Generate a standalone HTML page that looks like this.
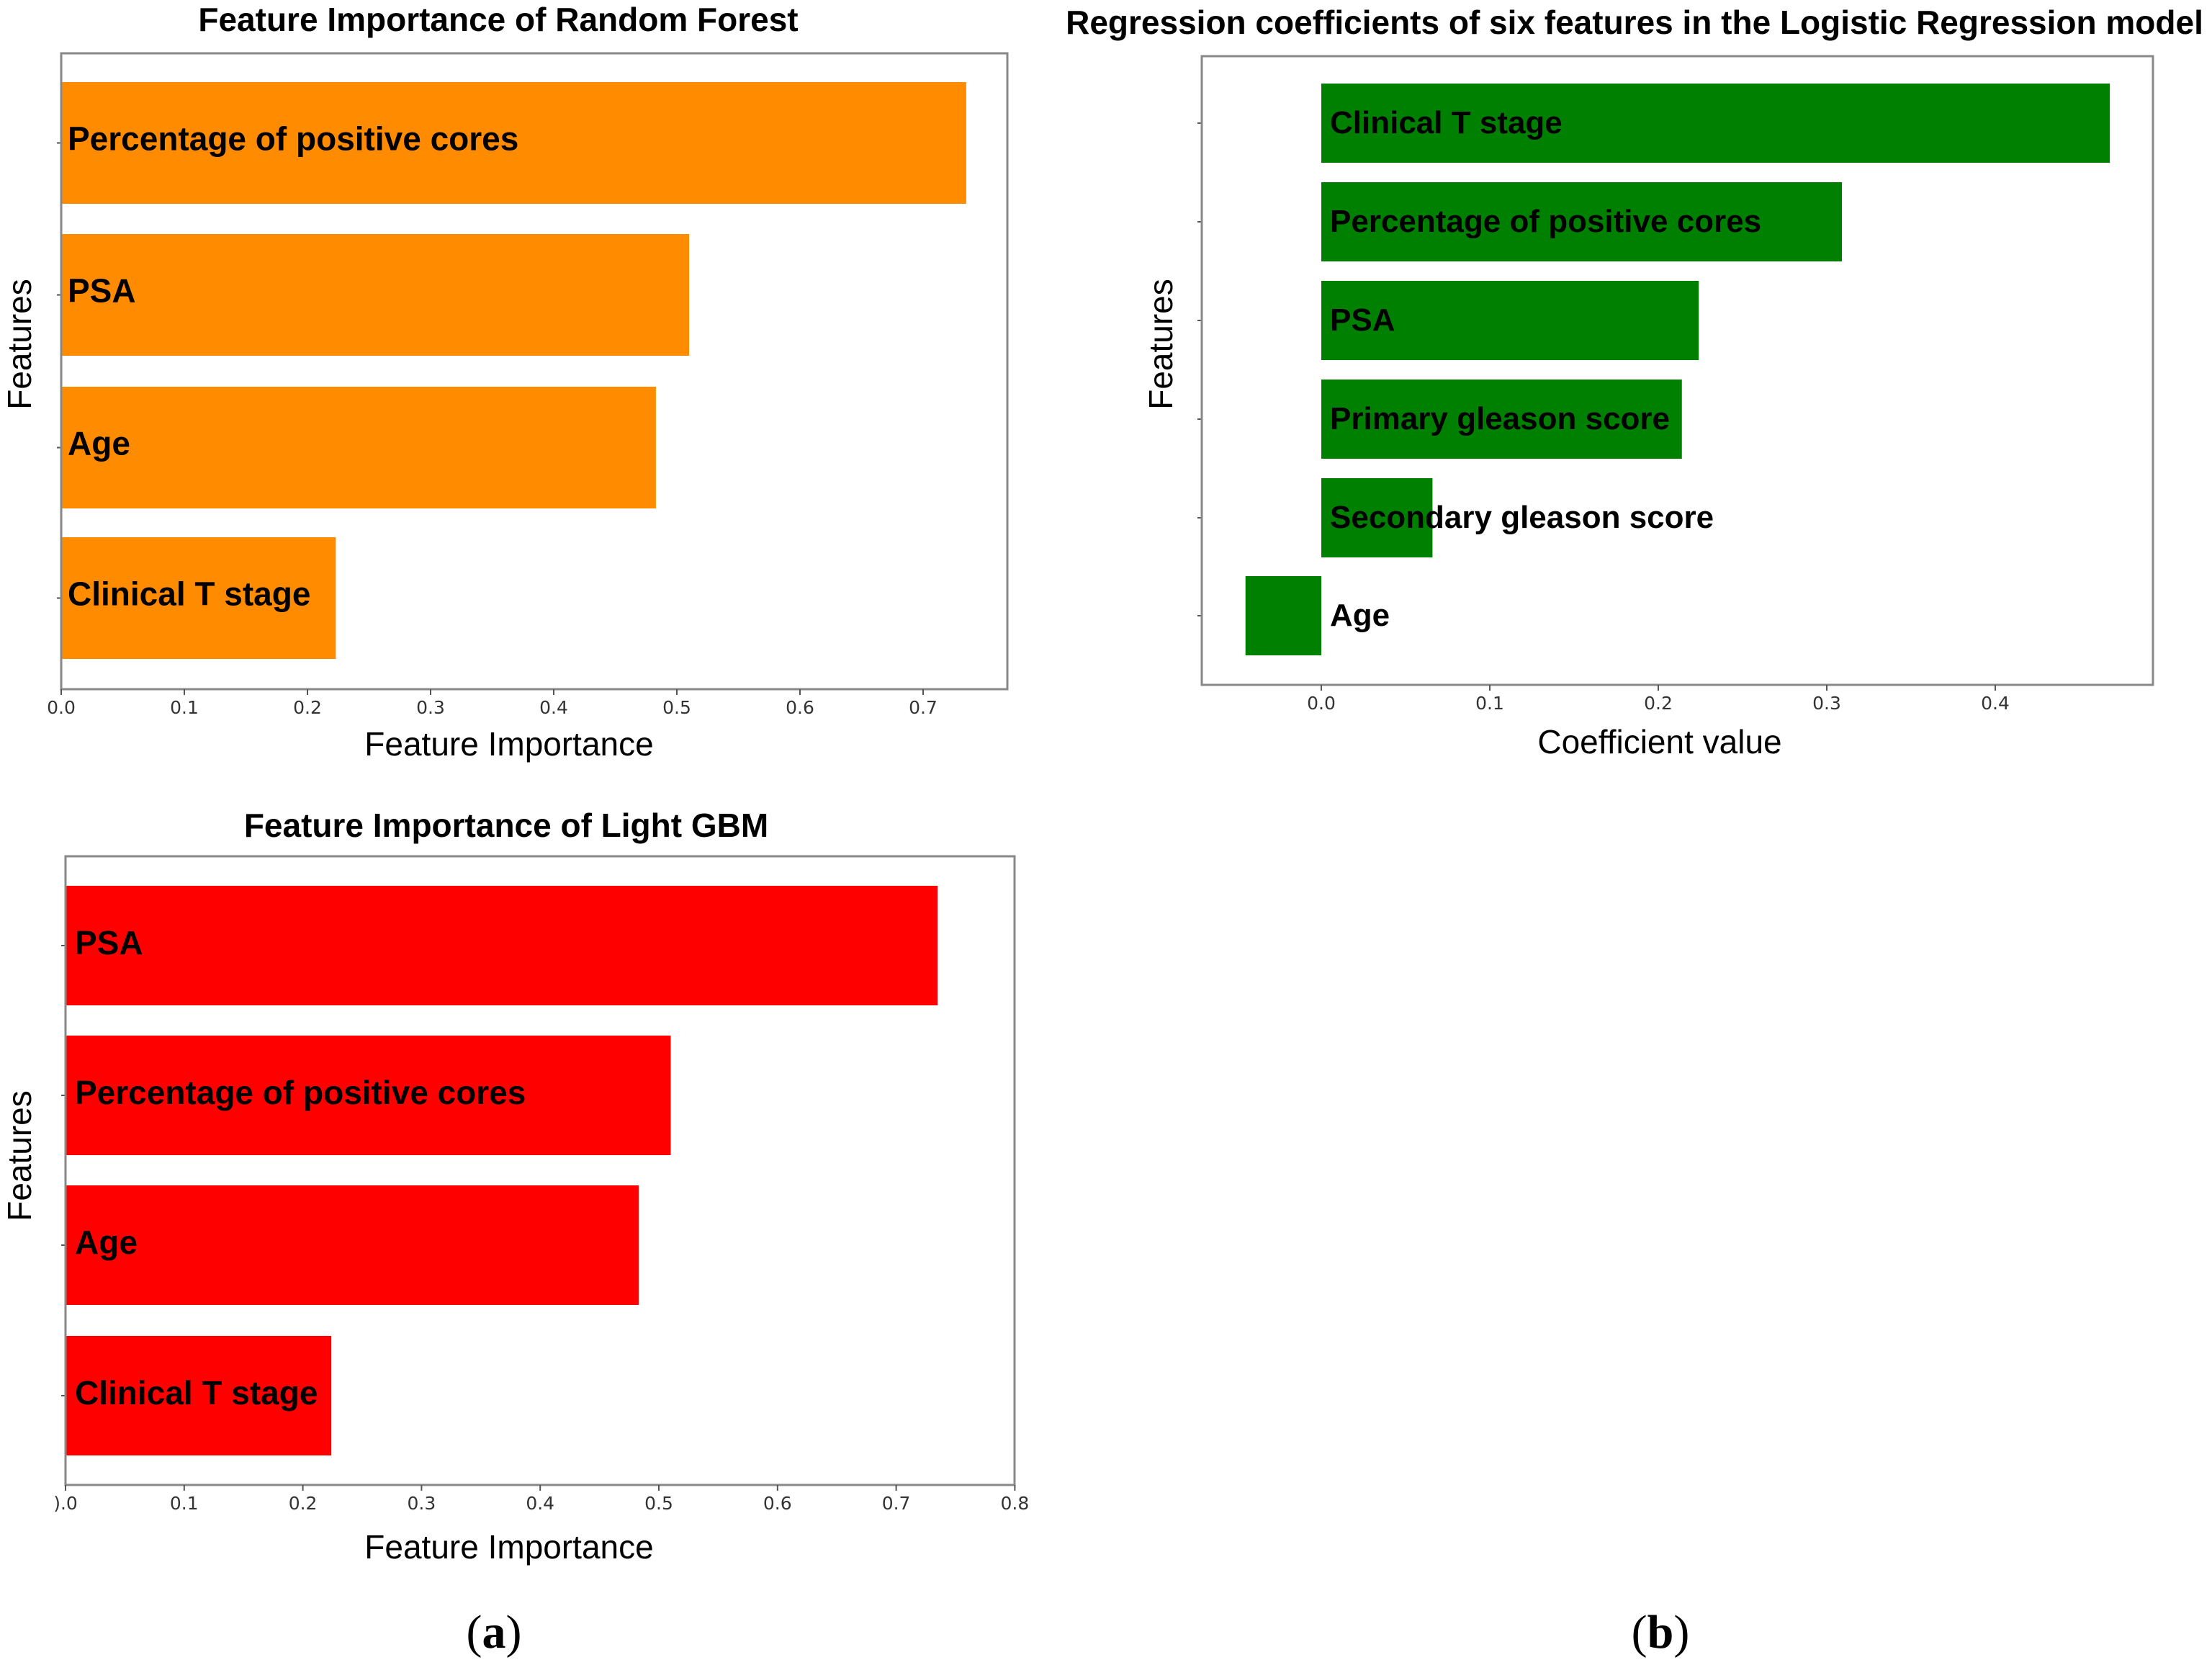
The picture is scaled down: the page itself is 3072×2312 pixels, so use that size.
<!DOCTYPE html>
<html><head><meta charset="utf-8"><style>
html,body{margin:0;padding:0;background:#fff;}
svg{display:block;font-family:"Liberation Sans",Arial,sans-serif;}
</style></head><body>
<svg id="fig" width="3072" height="2312" viewBox="0 0 3072 2312" xmlns="http://www.w3.org/2000/svg">
<rect width="3072" height="2312" fill="#fff"/>
<text x="686" y="2288" font-family="Liberation Serif, serif" font-size="66" text-anchor="middle">(<tspan font-weight="bold">a</tspan>)</text>
<text x="2306" y="2288" font-family="Liberation Serif, serif" font-size="66" text-anchor="middle">(<tspan font-weight="bold">b</tspan>)</text>
</svg>
<script>
// Random Forest
const rfCategories = ["Percentage of positive cores","PSA","Age","Clinical T stage"];
const rfValues = [0.735, 0.510, 0.483, 0.223];
const rfTicks = ["0.0","0.1","0.2","0.3","0.4","0.5","0.6","0.7"];
// Logistic Regression
const lrCategories = ["Clinical T stage","Percentage of positive cores","PSA","Primary gleason score","Secondary gleason score","Age"];
const lrValues = [0.468, 0.309, 0.224, 0.214, 0.066, -0.045];
const lrTicks = ["0.0","0.1","0.2","0.3","0.4"];
// Light GBM
const gbmCategories = ["PSA","Percentage of positive cores","Age","Clinical T stage"];
const gbmValues = [0.735, 0.510, 0.483, 0.224];
const gbmTicks = [").0","0.1","0.2","0.3","0.4","0.5","0.6","0.7","0.8"];

const NS = "http://www.w3.org/2000/svg";
const svg = document.getElementById('fig');
function mk(tag, attrs, parent){
  const e = document.createElementNS(NS, tag);
  for (const k in attrs) e.setAttribute(k, attrs[k]);
  (parent||svg).appendChild(e);
  return e;
}

function chart(cfg){
  const g = mk('g', {});
  
  
  const {left, right, top, bottom, x0, perTenth, barTops, barH} = cfg;
  const xs = v => x0 + v * perTenth * 10;
  const t = mk('text', {x: cfg.titleX, y: cfg.titleY, 'font-size': 46, 'font-weight': 'bold', 'text-anchor': 'middle', fill: '#000'}, g);
  t.textContent = cfg.title;
  
  
  cfg.categories.forEach((c, i) => {
    const v = cfg.values[i];
    const y = barTops[i];
    const xa = xs(Math.min(0, v)), xb = xs(Math.max(0, v));
    const r = mk('rect', {x: xa, y: y, width: xb - xa, height: barH, fill: cfg.color}, g);
    
    
    mk('line', {x1: left - 6, x2: left, y1: y + barH/2, y2: y + barH/2, stroke: '#555', 'stroke-width': 2}, g);
    const lx = xs(0) + cfg.labelPad;
    const lab = mk('text', {x: lx, y: y + barH/2 + cfg.labelDy, 'font-size': cfg.labelSize, 'font-weight': 'bold', fill: '#000'}, g);
    lab.textContent = c;
    
    
  });
  const f = mk('rect', {x: left, y: top, width: right - left, height: bottom - top, fill: 'none', stroke: '#888', 'stroke-width': 3}, g);
  
  
  cfg.ticks.forEach((tl, i) => {
    const x = xs(i * 0.1);
    mk('line', {x1: x, x2: x, y1: bottom, y2: bottom + 8, stroke: '#555', 'stroke-width': 2}, g);
    const tt = mk('text', {x: x, y: bottom + 34, 'font-size': 25, 'text-anchor': 'middle', fill: '#333', 'font-family': 'DejaVu Sans, sans-serif'}, g);
    tt.textContent = tl;
    
    
  });
  const xl = mk('text', {x: cfg.xlabelX, y: cfg.xlabelY, 'font-size': 46, 'text-anchor': 'middle', fill: '#000'}, g);
  xl.textContent = cfg.xlabel;
  
  
  const yl = mk('text', {x: 0, y: 0, 'font-size': 46, 'text-anchor': 'middle', fill: '#000', transform: 'translate(' + cfg.ylabelX + ',' + cfg.ylabelY + ') rotate(-90)'}, g);
  yl.textContent = 'Features';
  
  
}

chart({name: 'random-forest-chart', title: 'Feature Importance of Random Forest', titleX: 692, titleY: 43,
  categories: rfCategories, values: rfValues, ticks: rfTicks, color: '#ff8c00',
  left: 85, right: 1399, top: 74, bottom: 957, x0: 85, perTenth: 171,
  barTops: [114, 325, 537, 746], barH: 169, labelPad: 9, labelDy: 10, labelSize: 46,
  xlabel: 'Feature Importance', xlabelX: 707, xlabelY: 1049, ylabelX: 43, ylabelY: 478});

chart({name: 'logistic-regression-chart', title: 'Regression coefficients of six features in the Logistic Regression model', titleX: 2270, titleY: 47,
  categories: lrCategories, values: lrValues, ticks: lrTicks, color: '#008000',
  left: 1669, right: 2990, top: 78, bottom: 951, x0: 1835, perTenth: 234,
  barTops: [116, 253, 390, 527, 664, 800], barH: 110, labelPad: 12, labelDy: 14, labelSize: 44,
  xlabel: 'Coefficient value', xlabelX: 2305, xlabelY: 1046, ylabelX: 1628, ylabelY: 478});

chart({name: 'light-gbm-chart', title: 'Feature Importance of Light GBM', titleX: 703, titleY: 1162,
  categories: gbmCategories, values: gbmValues, ticks: gbmTicks, color: '#ff0000',
  left: 91, right: 1409, top: 1189, bottom: 2062, x0: 91, perTenth: 164.8,
  barTops: [1230, 1438, 1646, 1855], barH: 166, labelPad: 13, labelDy: 12, labelSize: 46,
  xlabel: 'Feature Importance', xlabelX: 707, xlabelY: 2164, ylabelX: 43, ylabelY: 1605});
</script>
</body></html>
